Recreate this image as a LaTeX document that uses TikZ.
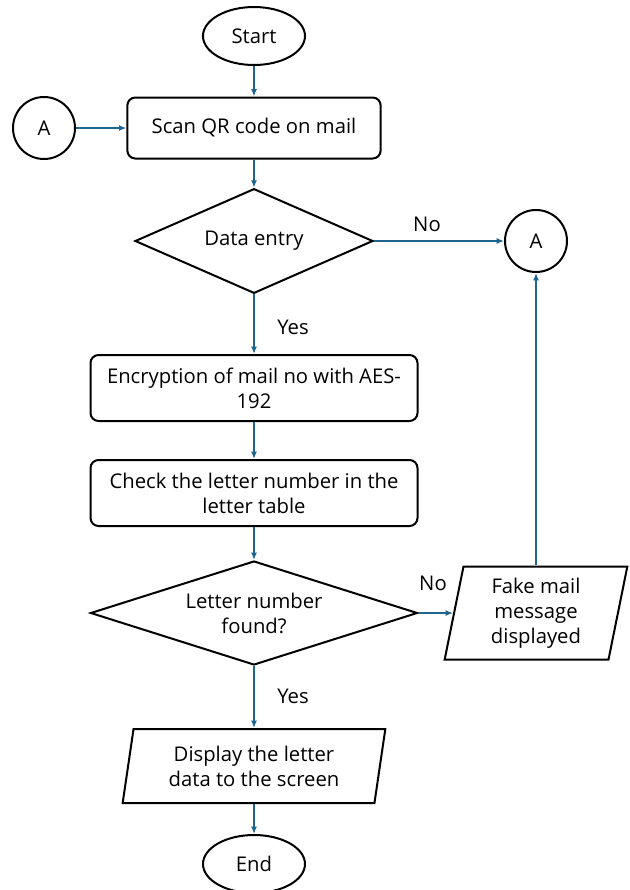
\documentclass[tikz,border=0pt]{standalone}
\usepackage{fontspec}
\setmainfont{Open Sans}
\usetikzlibrary{shapes.geometric,arrows.meta}
\definecolor{flowblue}{RGB}{30,102,142}
\begin{document}
\begin{tikzpicture}[x=0.75pt, y=-0.75pt,
    every node/.style = {align=center, font=\fontsize{15.2}{18.75}\selectfont, inner sep=0pt},
    terminal/.style = {draw, line width=1.5pt, ellipse, minimum width=76.5pt, minimum height=43.5pt},
    connector/.style = {draw, line width=1.5pt, circle, minimum size=46.5pt},
    process/.style = {draw, line width=1.5pt, rectangle, rounded corners=6pt, minimum height=47pt},
    decision/.style = {draw, line width=1.5pt, diamond, aspect=#1},
    io/.style = {draw, line width=1.5pt, trapezium, trapezium stretches body,
                 trapezium left angle=75, trapezium right angle=105},
    flow/.style = {draw=flowblue, line width=1.2pt, -{Latex[length=5.5pt,width=4.5pt]}}]
  \useasboundingbox (0,0) rectangle (630,890);
  \node[terminal] (start) at (254,36) {Start};
  \node[process, minimum width=190pt, minimum height=45.75pt] (scan) at (254,128) {Scan QR code on mail};
  \node[connector] (aleft) at (44,128) {A};
  \node[decision=2.27, minimum width=178.5pt, minimum height=78.5pt] (entry) at (254,241) {Data entry};
  \node[connector] (aright) at (536,241) {A};
  \node[process, minimum width=245.25pt, minimum height=49.5pt] (encrypt) at (254,388) {Encryption of mail no with AES-\\192};
  \node[process, minimum width=245.25pt, minimum height=49.5pt] (check) at (254,493) {Check the letter number in the\\letter table};
  \node[decision=3.14, minimum width=245.25pt, minimum height=78pt] (found) at (254,613) {Letter number\\found?};
  \node[io, minimum width=137pt, minimum height=69.75pt] (fake) at (536,613) {Fake mail\\message\\displayed};
  \node[io, minimum width=197pt, minimum height=55.5pt] (display) at (254,766) {Display the letter\\data to the screen};
  \node[terminal] (end) at (254,864) {End};
  \node (no1) at (427,224) {No};
  \node (yes1) at (293,327) {Yes};
  \node (no2) at (433,583) {No};
  \node (yes2) at (293,696) {Yes};
  \draw[flow] (start) -- (scan);
  \draw[flow] (aleft) -- (scan);
  \draw[flow] (scan) -- (entry);
  \draw[flow] (entry) -- (aright);
  \draw[flow] (entry) -- (encrypt);
  \draw[flow] (encrypt) -- (check);
  \draw[flow] (check) -- (found);
  \draw[flow] (found) -- (fake);
  \draw[flow] (fake) -- (aright);
  \draw[flow] (found) -- (display);
  \draw[flow] (display) -- (end);
\end{tikzpicture}
\end{document}
